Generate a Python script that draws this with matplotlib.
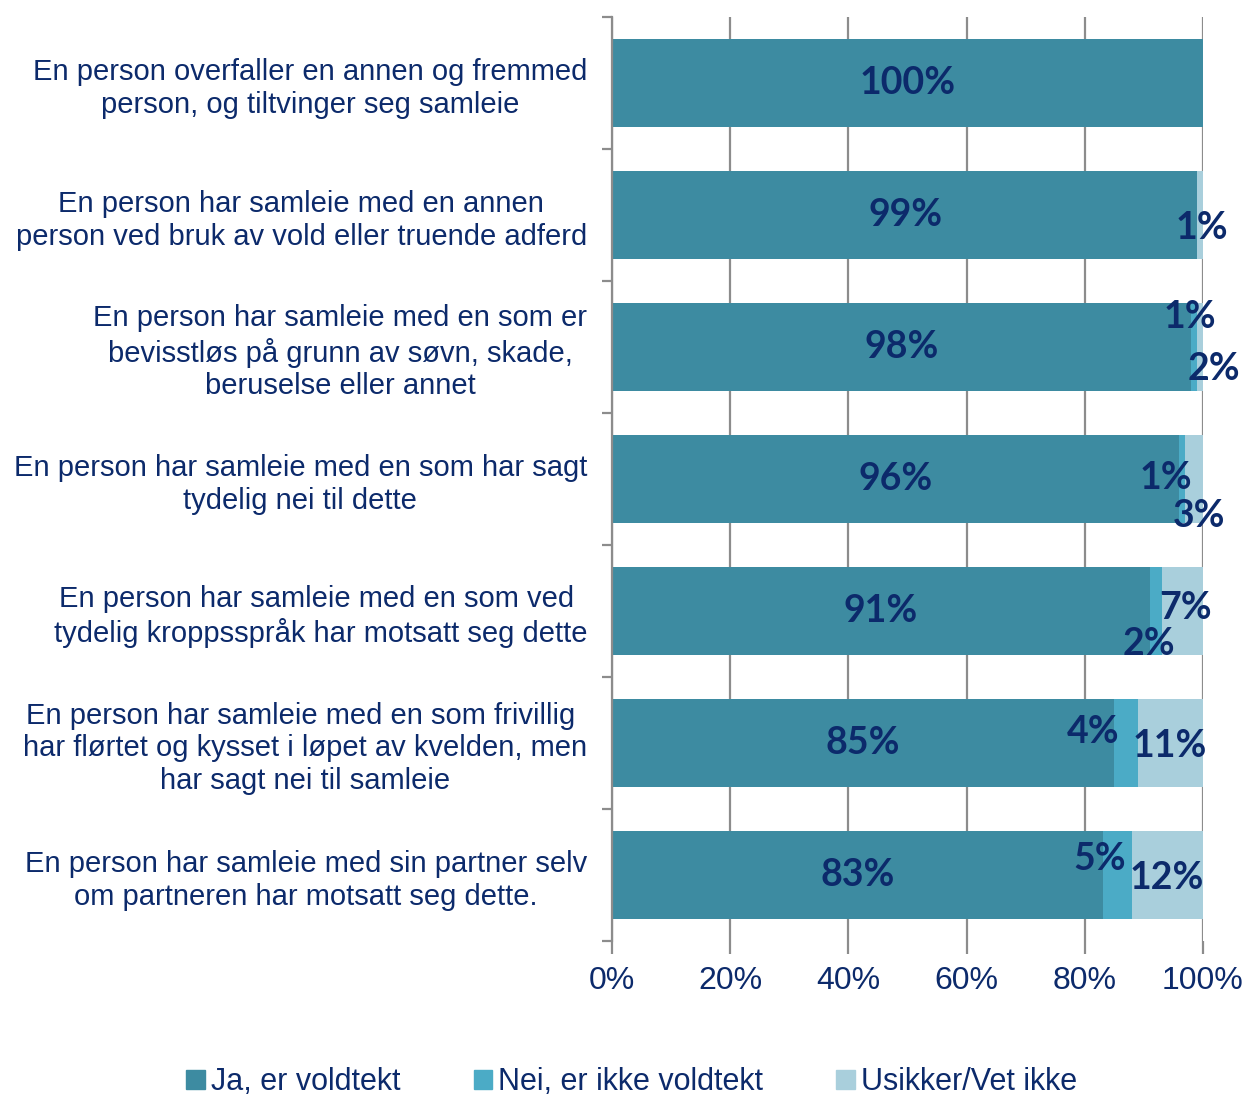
import matplotlib as mpl
import matplotlib.pyplot as plt
from matplotlib.patches import Patch
import numpy as np

mpl.rcParams['font.family'] = 'Liberation Sans'

categories = [
    "En person overfaller en annen og fremmed\nperson, og tiltvinger seg samleie",
    "En person har samleie med en annen\nperson ved bruk av vold eller truende adferd",
    "En person har samleie med en som er\nbevisstløs på grunn av søvn, skade,\nberuselse eller annet",
    "En person har samleie med en som har sagt\ntydelig nei til dette",
    "En person har samleie med en som ved \ntydelig kroppsspråk har motsatt seg dette",
    "En person har samleie med en som frivillig \nhar flørtet og kysset i løpet av kvelden, men\nhar sagt nei til samleie",
    "En person har samleie med sin partner selv\nom partneren har motsatt seg dette.",
]
ja = [100, 99, 98, 96, 91, 85, 83]
nei = [0, 0, 1, 1, 2, 4, 5]
usikker = [0, 1, 2, 3, 7, 11, 12]
series_names = ["Ja, er voldtekt", "Nei, er ikke voldtekt", "Usikker/Vet ikke"]

# label placement per segment (x in %, y offset in category units), None = no label
label_pos = [
    [(50, 0.0), None, None],
    [(49.6, 0.0), None, (99.8, 0.1)],
    [(49, 0.0), (97.8, -0.23), (101.9, 0.17)],
    [(48, 0.0), (93.7, -0.01), (99.3, 0.28)],
    [(45.5, 0.0), (90.9, 0.25), (97, -0.02)],
    [(42.5, 0.0), (81.4, -0.08), (94.4, 0.02)],
    [(41.5, 0.0), (82.6, -0.12), (93.9, 0.02)],
]

c_ja = '#3d8ba1'
c_nei = '#4babc6'
c_us = '#a9cfdc'
navy = '#0c2a6b'
grey = '#8c8c8c'

fig = plt.figure(figsize=(12.46, 10.95), dpi=100)
ax = fig.add_axes([612 / 1246, 1 - 941 / 1095, (1203 - 612) / 1246, (941 - 17) / 1095])

y = np.arange(len(categories))
h = 0.66
ja_a, nei_a, us_a = np.array(ja), np.array(nei), np.array(usikker)
ax.barh(y, ja_a, height=h, color=c_ja, zorder=3)
ax.barh(y, nei_a, left=ja_a, height=h, color=c_nei, zorder=3)
ax.barh(y, us_a, left=ja_a + nei_a, height=h, color=c_us, zorder=3)

# data labels
for i in range(len(categories)):
    vals = [ja[i], nei[i], usikker[i]]
    for v, pos in zip(vals, label_pos[i]):
        if pos is None:
            continue
        lx, dy = pos
        ax.text(lx, i + dy, f"{v}%", ha='center', va='center', color=navy,
                fontsize=27, fontweight='bold', family='Lato', zorder=5)

ax.set_xlim(0, 100)
ax.set_ylim(len(categories) - 0.5, -0.5)
ax.set_xticks(np.arange(0, 101, 20))
ax.set_xticklabels([f"{t}%" for t in range(0, 101, 20)])
ax.xaxis.grid(True, color=grey, linewidth=1.6, zorder=0)
ax.tick_params(axis='x', length=9, width=1.6, color=grey, labelsize=23,
               labelcolor=navy, pad=9)

ax.set_yticks(y)
ax.set_yticklabels(categories)
for t in ax.get_yticklabels():
    t.set_multialignment('center')
    t.set_linespacing(1.22)
ax.tick_params(axis='y', which='major', length=0, labelsize=21,
               labelcolor=navy, pad=18)
ax.set_yticks(np.arange(-0.5, len(categories) + 0.5, 1), minor=True)
ax.tick_params(axis='y', which='minor', length=7, width=1.6, color=grey)

for s in ['top', 'right', 'bottom']:
    ax.spines[s].set_visible(False)
ax.spines['left'].set_color(grey)
ax.spines['left'].set_linewidth(1.6)
ax.spines['left'].set_zorder(4)

handles = [Patch(color=c) for c in (c_ja, c_nei, c_us)]
fig.legend(handles, series_names, loc='center', bbox_to_anchor=(0.507, 1 - 1082 / 1095),
           ncol=3, frameon=False, labelcolor=navy,
           handlelength=0.6, handleheight=0.6, handletextpad=0.2, columnspacing=2.4,
           prop={'family': 'Liberation Sans', 'size': 22})

fig.savefig("out.png")
